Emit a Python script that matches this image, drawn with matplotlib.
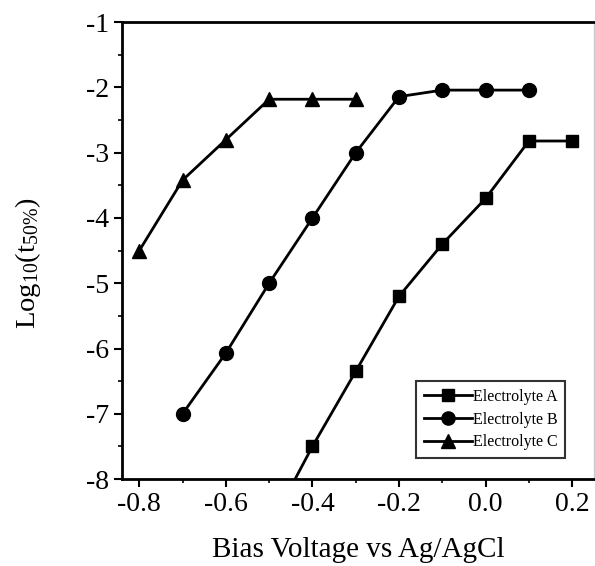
import matplotlib
matplotlib.use("Agg")
import matplotlib.pyplot as plt
from matplotlib.ticker import MultipleLocator

plt.rcParams['font.family'] = ['Liberation Serif', 'DejaVu Serif']
plt.rcParams['mathtext.fontset'] = 'custom'
plt.rcParams['mathtext.rm'] = 'Liberation Serif'
plt.rcParams['mathtext.it'] = 'Liberation Serif'
plt.rcParams['mathtext.default'] = 'regular'

# Data
x_a = [-0.5, -0.4, -0.3, -0.2, -0.1, 0.0, 0.1, 0.2]
y_a = [-8.75, -7.5, -6.35, -5.2, -4.4, -3.7, -2.82, -2.82]
x_b = [-0.7, -0.6, -0.5, -0.4, -0.3, -0.2, -0.1, 0.0, 0.1]
y_b = [-7.0, -6.07, -5.0, -4.0, -3.0, -2.14, -2.04, -2.04, -2.04]
x_c = [-0.8, -0.7, -0.6, -0.5, -0.4, -0.3]
y_c = [-4.5, -3.42, -2.8, -2.18, -2.18, -2.18]
labels = ["Electrolyte A", "Electrolyte B", "Electrolyte C"]
xticks = [-0.8, -0.6, -0.4, -0.2, 0.0, 0.2]
xticklabels = ["-0.8", "-0.6", "-0.4", "-0.2", "0.0", "0.2"]
yticks = [-8, -7, -6, -5, -4, -3, -2, -1]
yticklabels = ["-8", "-7", "-6", "-5", "-4", "-3", "-2", "-1"]

fig = plt.figure(figsize=(5.95, 5.66), dpi=100)
ax = fig.add_axes([0.205, 0.1537, 0.793, 0.807])

lw = 2.0
ax.plot(x_a, y_a, color='black', lw=lw, marker='s', ms=9, label=labels[0])
ax.plot(x_b, y_b, color='black', lw=lw, marker='o', ms=10, label=labels[1])
ax.plot(x_c, y_c, color='black', lw=lw, marker='^', ms=10.5, label=labels[2])

ax.set_xlim(-0.84, 0.25)
ax.set_ylim(-8, -1)
ax.set_xticks(xticks)
ax.set_xticklabels(xticklabels)
ax.set_yticks(yticks)
ax.set_yticklabels(yticklabels)
ax.xaxis.set_minor_locator(MultipleLocator(0.1))
ax.yaxis.set_minor_locator(MultipleLocator(0.5))
ax.tick_params(axis='both', which='major', direction='out', length=6, width=1.5,
               labelsize=20, top=False, right=False)
ax.tick_params(axis='both', which='minor', direction='out', length=3, width=1.2,
               top=False, right=False)

for s in ['left', 'bottom', 'top']:
    ax.spines[s].set_linewidth(2.0)
ax.spines['right'].set_color('#cccccc')
ax.spines['right'].set_linewidth(1.0)

ax.set_xlabel("Bias Voltage vs Ag/AgCl", fontsize=21, labelpad=14)
ax.set_ylabel("Log$_{10}$(t$_{50\\%}$)", fontsize=20.5)
ax.yaxis.set_label_coords(-0.167, 0.473)

leg = ax.legend(loc='lower right', bbox_to_anchor=(0.94, 0.045), fontsize=11.5,
                frameon=True, fancybox=False, edgecolor='black', handlelength=3.0,
                handletextpad=0.05, borderpad=0.5, labelspacing=0.42, markerscale=0.95,
                borderaxespad=0.0)
leg.get_frame().set_linewidth(1.5)

fig.savefig("out.png", dpi=100)
